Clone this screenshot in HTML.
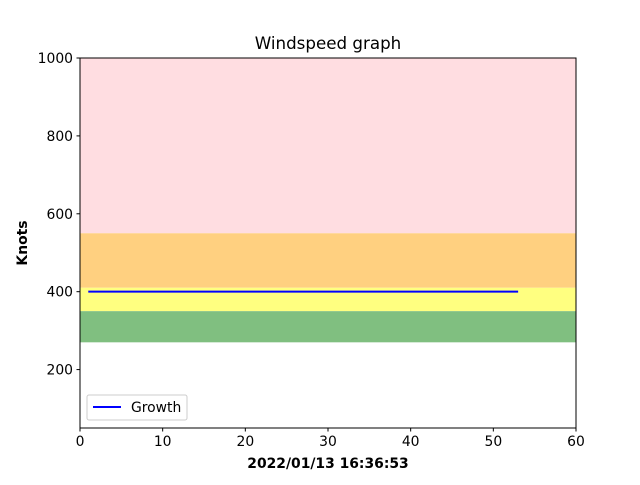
<!DOCTYPE html>
<html><head><meta charset="utf-8"><style>
body{margin:0;background:#fff;}
svg text{font-family:"DejaVu Sans","Liberation Sans",sans-serif;}
</style></head><body>
<svg id="chart" width="640" height="480" xmlns="http://www.w3.org/2000/svg">
<rect width="640" height="480" fill="#fff"/>
<g id="bands"></g>
<g id="series"></g>
<rect x="80" y="58" width="496" height="370" fill="none" stroke="#000" stroke-width="1"/>
<g id="xticks"></g><g id="yticks"></g>
<text x="328" y="49" font-size="16.7" text-anchor="middle">Windspeed graph</text>
<text x="328" y="468" font-size="13.9" font-weight="bold" text-anchor="middle">2022/01/13 16:36:53</text>
<text x="27" y="243" font-size="13.9" font-weight="bold" text-anchor="middle" transform="rotate(-90 27 243)">Knots</text>
<g>
<rect x="87" y="395" width="100" height="25" rx="2" fill="#fff" fill-opacity="0.8" stroke="#ccc"/>
<line x1="93" y1="407" x2="121" y2="407" stroke="#0000ff" stroke-width="2"/>
<text x="131" y="412" font-size="13.9">Growth</text>
</g>
</svg>
<script>
const xTicks=[0,10,20,30,40,50,60];
const yTicks=[200,400,600,800,1000];
const bandLows=[550,410,350,270];
const bandHighs=[1000,550,410,350];
const bandColors=["#ffdde1","#ffd080","#ffff80","#80bf80"];
const bandNames=["band-danger","band-high","band-moderate","band-low"];
const growthX=[1,53];
const growthY=[400,400];
const X0=0,X1=60,Y0=50,Y1=1000;
const sx=v=>80+(v-X0)/(X1-X0)*496;
const sy=v=>428-(v-Y0)/(Y1-Y0)*370;
const NS="http://www.w3.org/2000/svg";
function mk(t,a,p){const e=document.createElementNS(NS,t);for(const k in a)e.setAttribute(k,a[k]);p.appendChild(e);return e;}
const bands=document.getElementById('bands');
for(let i=0;i<bandLows.length;i++){
 const r=mk('rect',{x:sx(X0),y:sy(bandHighs[i]),width:sx(X1)-sx(X0),height:sy(bandLows[i])-sy(bandHighs[i]),fill:bandColors[i]},bands);
 
 
}
const ser=document.getElementById('series');
const pl=mk('polyline',{points:growthX.map((x,i)=>sx(x)+','+sy(growthY[i])).join(' '),fill:'none',stroke:'#0000ff','stroke-width':2},ser);


const xt=document.getElementById('xticks');
xTicks.forEach(v=>{
 const l=mk('line',{x1:sx(v),x2:sx(v),y1:428,y2:431.5,stroke:'#000'},xt);
 
 
 const t=mk('text',{x:sx(v),y:446,'font-size':13.9,'text-anchor':'middle'},xt);t.textContent=v;
 
 
});
const yt=document.getElementById('yticks');
yTicks.forEach(v=>{
 const l=mk('line',{x1:76.5,x2:80,y1:sy(v),y2:sy(v),stroke:'#000'},yt);
 
 
 const t=mk('text',{x:73,y:sy(v)+5,'font-size':13.9,'text-anchor':'end'},yt);t.textContent=v;
 
 
});
</script>
</body></html>
